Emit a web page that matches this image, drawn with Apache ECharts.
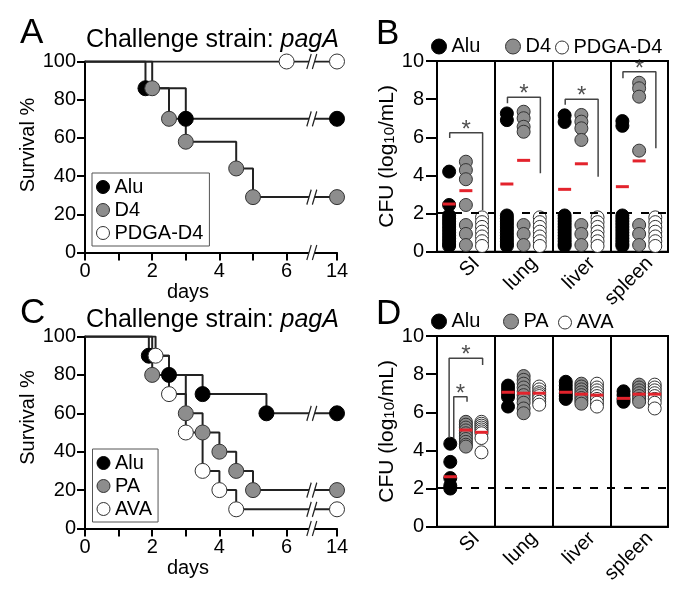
<!DOCTYPE html>
<html>
<head>
<meta charset="utf-8">
<script src="https://cdn.jsdelivr.net/npm/echarts@6/dist/echarts.min.js"></script>
<style>
html, body { margin: 0; padding: 0; background: #fff; }
#main { width: 688px; height: 594px; }
</style>
</head>
<body>
<div id="main"></div>
<script>
// survival, panel A (days; the 14 d point sits after the axis break)
var aAluDays = [0, 1.8, 3, 14];
var aAluSurv = [100, 86, 70, 70];
var aD4Days = [0, 2, 2.5, 3, 4.5, 5, 14];
var aD4Surv = [100, 86, 70, 58, 44, 29, 29];
var aPdgaDays = [0, 6, 14];
var aPdgaSurv = [100, 100, 100];

// survival, panel C
var cAluDays = [0, 1.9, 2.5, 3.5, 5.4, 14];
var cAluSurv = [100, 90, 80, 70, 60, 60];
var cPaDays = [0, 2, 3, 3.5, 4, 4.5, 5, 14];
var cPaSurv = [100, 80, 60, 50, 40, 30, 20, 20];
var cAvaDays = [0, 2.1, 2.5, 3, 3.5, 4, 4.5, 14];
var cAvaSurv = [100, 90, 70, 50, 30, 20, 10, 10];

var dayTicks = [0, 1, 2, 3, 4, 5, 6, 14];
var dayLabels = [0, 2, 4, 6, 14];

// CFU (log10/mL), one list per organ
var organs = ['SI', 'lung', 'liver', 'spleen'];
var lod = 2.05;

var bAlu = [
    [4.2, 2.45, 1.9, 1.75, 1.6, 1.45, 1.3, 1.15, 1.0, 0.85, 0.7, 0.55, 0.4, 0.3],
    [7.25, 6.9, 1.9, 1.75, 1.6, 1.45, 1.3, 1.15, 1.0, 0.85, 0.7, 0.55, 0.4, 0.3],
    [7.15, 6.8, 1.9, 1.75, 1.6, 1.45, 1.3, 1.15, 1.0, 0.85, 0.7, 0.55, 0.4, 0.3],
    [6.85, 6.6, 1.9, 1.75, 1.6, 1.45, 1.3, 1.15, 1.0, 0.85, 0.7, 0.55, 0.4, 0.3]
];
var bD4 = [
    [4.72, 4.28, 3.8, 2.45, 1.4, 0.93, 0.35],
    [7.34, 7.0, 6.55, 6.29, 1.4, 0.93, 0.35],
    [7.17, 6.82, 6.47, 5.86, 1.4, 0.93, 0.35],
    [8.86, 8.57, 8.13, 5.3, 1.4, 0.93, 0.35]
];
var bPdga = [
    [1.8, 1.55, 1.3, 1.05, 0.8, 0.55, 0.3],
    [1.8, 1.55, 1.3, 1.05, 0.8, 0.55, 0.3],
    [1.8, 1.55, 1.3, 1.05, 0.8, 0.55, 0.3],
    [1.8, 1.55, 1.3, 1.05, 0.8, 0.55, 0.3]
];
var bAluMean = [2.5, 3.55, 3.27, 3.41];
var bD4Mean = [3.2, 4.79, 4.61, 4.76];
// significance brackets Alu vs PDGA-D4
var bBracketTop = [6.24, 8.1, 7.99, 9.44];
var bBracketLeftEnd = [5.96, 7.78, 7.7, 9.09];
var bBracketRightEnd = [2.19, 4.11, 3.93, 5.42];

var dAlu = [
    [4.35, 3.4, 2.55, 2.15, 2.0],
    [7.4, 7.2, 7.0, 6.8, 6.3],
    [7.6, 7.4, 7.2, 7.0, 6.85, 6.7],
    [7.1, 6.9, 6.7, 6.55]
];
var dPa = [
    [5.5, 5.35, 5.2, 5.05, 4.9, 4.75, 4.6, 4.45, 4.3, 4.2],
    [7.9, 7.7, 7.5, 7.3, 7.1, 6.9, 6.7, 6.5, 6.2, 5.95],
    [7.5, 7.35, 7.2, 7.05, 6.9, 6.75, 6.6, 6.45],
    [7.45, 7.3, 7.15, 7.0, 6.85, 6.7, 6.55]
];
var dAva = [
    [5.5, 5.4, 5.3, 5.2, 5.1, 5.0, 4.9, 4.65, 3.9],
    [7.35, 7.2, 7.05, 6.95, 6.85, 6.7, 6.55, 6.4],
    [7.5, 7.3, 7.15, 7.0, 6.85, 6.7, 6.5, 6.3],
    [7.45, 7.3, 7.15, 7.0, 6.85, 6.7, 6.5, 6.2]
];
var dAluMean = [2.62, 7.05, 7.05, 6.73];
var dPaMean = [5.07, 7.0, 6.95, 6.95];
var dAvaMean = [4.95, 7.0, 6.9, 6.95];
// SI brackets: Alu vs AVA (outer), Alu vs PA (inner)
var dBracketTop = [8.83, 6.82];
var dBracketLeftEnd = [4.65, 4.65];
var dBracketRightEnd = [8.48, 6.55];

var FONT = '"Liberation Sans", Arial, Helvetica, sans-serif';
var BREAK_AT = 6.75;
function dayPos(d) { return d > 7 ? 7.5 : d; }

var black = { color: '#000', borderColor: '#000', borderWidth: 1, opacity: 1 };
var grey = { color: '#8d8d8d', borderColor: '#333', borderWidth: 1, opacity: 1 };
var white = { color: '#fff', borderColor: '#333', borderWidth: 1, opacity: 1 };

function kmSeries(name, days, surv, st, xi, yi) {
    return {
        name: name, type: 'line', step: 'end', xAxisIndex: xi, yAxisIndex: yi,
        data: days.map(function (d, i) {
            return { value: [dayPos(d), surv[i]], symbol: i === 0 ? 'none' : 'circle' };
        }),
        symbol: 'circle', symbolSize: 15, itemStyle: st,
        lineStyle: { color: '#222', width: 2 }, z: 3
    };
}

function breakSeries(xi, yi, ys) {
    var pts = ys.map(function (y) { return [BREAK_AT, y]; });
    return [{
        type: 'scatter', xAxisIndex: xi, yAxisIndex: yi, data: pts, z: 6, silent: true,
        symbol: 'path://M4,0 L9,0 L5,12 L0,12 Z', symbolSize: [10, 15], clip: false,
        itemStyle: { color: '#fff', borderWidth: 0, opacity: 1 }
    }, {
        type: 'scatter', xAxisIndex: xi, yAxisIndex: yi, data: pts, z: 7, silent: true,
        symbol: 'path://M0,12 L4,0 M5,12 L9,0', symbolSize: [10, 15], clip: false,
        itemStyle: { color: 'rgba(0,0,0,0)', borderColor: '#222', borderWidth: 1.5, opacity: 1 }
    }];
}

function dots(name, vals, off, st, xi, yi) {
    var out = [];
    vals.forEach(function (list, i) {
        list.forEach(function (v) { out.push([i + off, v]); });
    });
    return { name: name, type: 'scatter', xAxisIndex: xi, yAxisIndex: yi, data: out,
        symbol: 'circle', symbolSize: 13, itemStyle: st, z: 3 };
}

function means(vals, off, xi, yi) {
    return { type: 'scatter', xAxisIndex: xi, yAxisIndex: yi, silent: true, z: 5,
        data: vals.map(function (v, i) { return [i + off, v]; }),
        symbol: 'rect', symbolSize: [13, 3], itemStyle: { color: '#e3232c', opacity: 1 } };
}

function bracket(x0, x1, leftEnd, top, rightEnd, xi, yi) {
    return [{
        type: 'line', xAxisIndex: xi, yAxisIndex: yi, silent: true, z: 4,
        data: [[x0, leftEnd], [x0, top], [x1, top], [x1, rightEnd]],
        symbol: 'none', lineStyle: { color: '#444', width: 1.5 }
    }, {
        type: 'scatter', xAxisIndex: xi, yAxisIndex: yi, silent: true, z: 4,
        data: [[(x0 + x1) / 2, top]], symbolSize: 1, itemStyle: { color: 'rgba(0,0,0,0)' },
        label: { show: true, formatter: '*', position: 'top', distance: 0, offset: [0, 10],
            fontSize: 24, fontFamily: FONT, color: '#222' }
    }];
}

function survX(grid) {
    return {
        type: 'value', gridIndex: grid, min: 0, max: 7.5,
        axisLine: { onZero: false, lineStyle: { color: '#000', width: 2 } },
        axisTick: { customValues: dayTicks.map(dayPos), length: 8, lineStyle: { color: '#000', width: 2 } },
        axisLabel: { customValues: dayLabels.map(dayPos), margin: 9, fontSize: 20, fontFamily: FONT, color: '#000',
            formatter: function (v) { return v > 7 ? '14' : String(v); } },
        splitLine: { show: false },
        name: 'days', nameLocation: 'middle', nameGap: 26,
        nameTextStyle: { fontSize: 20, fontFamily: FONT, color: '#000', padding: [0, 46, 0, 0] }
    };
}
function survY(grid, shift) {
    return {
        type: 'value', gridIndex: grid, min: 0, max: 100, interval: 20,
        axisLine: { show: true, onZero: false, lineStyle: { color: '#000', width: 2 } },
        axisTick: { show: true, length: 8, lineStyle: { color: '#000', width: 2 } },
        axisLabel: { margin: 9, fontSize: 20, fontFamily: FONT, color: '#000' },
        splitLine: { show: false },
        name: 'Survival %', nameLocation: 'middle', nameGap: 35,
        nameTextStyle: { fontSize: 20, fontFamily: FONT, color: '#000', padding: [0, 0, 0, shift] }
    };
}
function cfuCat(grid) {
    return {
        type: 'category', gridIndex: grid, data: organs, boundaryGap: true,
        axisLine: { onZero: false, lineStyle: { color: '#000', width: 2 } },
        axisTick: { show: false },
        axisLabel: { interval: 0, rotate: 45, margin: -2, verticalAlign: 'top', lineHeight: 30,
            fontSize: 20, fontFamily: FONT, color: '#000' },
        splitLine: { show: true, interval: 0, lineStyle: { color: '#000', width: 2 } }
    };
}
function cfuVal(grid) {
    return { type: 'value', gridIndex: grid, min: -0.5, max: 3.5, show: false,
        axisLine: { onZero: false } };
}
function cfuY(grid) {
    return {
        type: 'value', gridIndex: grid, min: 0, max: 10, interval: 2,
        axisLine: { show: true, onZero: false, lineStyle: { color: '#000', width: 2 } },
        axisTick: { show: true, length: 11, lineStyle: { color: '#000', width: 2 } },
        axisLabel: { margin: 13, fontSize: 20, fontFamily: FONT, color: '#000' },
        splitLine: { show: false },
        name: 'CFU (log{sub|10}/mL)', nameLocation: 'middle', nameGap: 20,
        nameTextStyle: { fontSize: 21, fontFamily: FONT, color: '#000',
            rich: { sub: { fontSize: 15, fontFamily: FONT, color: '#000', lineHeight: 15,
                padding: [28, 0, 0, 0], verticalAlign: 'bottom' } } }
    };
}

function legendItem(name, st) {
    return { name: name, itemStyle: st };
}
function oneLegend(name, st, left, top, size) {
    return { data: [legendItem(name, st)], left: left, top: top, padding: 0,
        icon: 'circle', itemWidth: size, itemHeight: size, selectedMode: false,
        textStyle: { fontSize: 20, fontFamily: FONT, color: '#000' } };
}
function boxLegend(names, sts, left, top) {
    return { data: names.map(function (n, i) { return legendItem(n, sts[i]); }),
        orient: 'vertical', left: left, top: top, padding: [4, 6, 3, 4], itemGap: 3,
        icon: 'circle', itemWidth: 13, itemHeight: 13, selectedMode: false,
        borderColor: '#555', borderWidth: 1,
        textStyle: { fontSize: 20, fontFamily: FONT, color: '#000' } };
}

var lodLine = { silent: true, symbol: ['none', 'none'], label: { show: false },
    lineStyle: { type: [8, 9], color: '#000', width: 2 }, data: [{ yAxis: lod }] };

var series = [];
// A
series.push(kmSeries('PDGA-D4', aPdgaDays, aPdgaSurv, white, 0, 0));
series.push(kmSeries('Alu', aAluDays, aAluSurv, black, 0, 0));
series.push(kmSeries('D4', aD4Days, aD4Surv, grey, 0, 0));
series = series.concat(breakSeries(0, 0, [aPdgaSurv[aPdgaSurv.length - 1], aAluSurv[aAluSurv.length - 1], aD4Surv[aD4Surv.length - 1], 0]));
// C
series.push(kmSeries('Alu', cAluDays, cAluSurv, black, 3, 2));
series.push(kmSeries('PA', cPaDays, cPaSurv, grey, 3, 2));
series.push(kmSeries('AVA', cAvaDays, cAvaSurv, white, 3, 2));
series = series.concat(breakSeries(3, 2, [cAluSurv[cAluSurv.length - 1], cPaSurv[cPaSurv.length - 1], cAvaSurv[cAvaSurv.length - 1], 0]));
// B
var bDots = dots('Alu', bAlu, -0.29, black, 2, 1);
bDots.markLine = lodLine;
series.push(bDots);
series.push(dots('D4', bD4, 0, grey, 2, 1));
series.push(dots('PDGA-D4', bPdga, 0.28, white, 2, 1));
series.push(means(bAluMean, -0.29, 2, 1));
series.push(means(bD4Mean, 0, 2, 1));
organs.forEach(function (o, i) {
    series = series.concat(bracket(i - 0.28, i + 0.29, bBracketLeftEnd[i], bBracketTop[i], bBracketRightEnd[i], 2, 1));
});
// D
var dDots = dots('Alu', dAlu, -0.27, black, 5, 3);
dDots.markLine = lodLine;
series.push(dDots);
series.push(dots('PA', dPa, 0, grey, 5, 3));
series.push(dots('AVA', dAva, 0.27, white, 5, 3));
series.push(means(dAluMean, -0.27, 5, 3));
series.push(means(dPaMean, 0, 5, 3));
series.push(means(dAvaMean, 0.27, 5, 3));
series = series.concat(bracket(-0.29, 0.29, dBracketLeftEnd[0], dBracketTop[0], dBracketRightEnd[0], 5, 3));
series = series.concat(bracket(-0.21, 0.02, dBracketLeftEnd[1], dBracketTop[1], dBracketRightEnd[1], 5, 3));

var chart = echarts.init(document.getElementById('main'), null, { renderer: 'canvas' });
var option = {
    animation: false,
    backgroundColor: '#fff',
    grid: [
        { left: 85, top: 61.5, width: 252, height: 191, containLabel: false, outerBoundsMode: 'none' },
        { left: 437, top: 61, width: 231, height: 190.7, containLabel: false, outerBoundsMode: 'none',
          show: true, borderColor: '#000', borderWidth: 2 },
        { left: 85, top: 336.5, width: 252, height: 192, containLabel: false, outerBoundsMode: 'none' },
        { left: 437, top: 336, width: 231, height: 190.7, containLabel: false, outerBoundsMode: 'none',
          show: true, borderColor: '#000', borderWidth: 2 }
    ],
    xAxis: [survX(0), cfuCat(1), cfuVal(1), survX(2), cfuCat(3), cfuVal(3)],
    yAxis: [survY(0, 24), cfuY(1), survY(2, 30), cfuY(3)],
    legend: [
        boxLegend(['Alu', 'D4', 'PDGA-D4'], [black, grey, white], 92, 173),
        boxLegend(['Alu', 'PA', 'AVA'], [black, grey, white], 92.5, 449),
        oneLegend('Alu', black, 431, 36.5, 15),
        oneLegend('D4', grey, 505, 36.5, 15),
        oneLegend('PDGA-D4', white, 555, 37.5, 13),
        oneLegend('Alu', black, 431, 311.5, 15),
        oneLegend('PA', grey, 503, 311.5, 15),
        oneLegend('AVA', white, 558, 312.5, 13)
    ],
    graphic: [
        { type: 'text', x: 20, y: 33, style: { text: 'A', fontSize: 35, fontFamily: FONT, fill: '#000', verticalAlign: 'middle' } },
        { type: 'text', x: 376, y: 34, style: { text: 'B', fontSize: 35, fontFamily: FONT, fill: '#000', verticalAlign: 'middle' } },
        { type: 'text', x: 20, y: 313, style: { text: 'C', fontSize: 35, fontFamily: FONT, fill: '#000', verticalAlign: 'middle' } },
        { type: 'text', x: 376, y: 314, style: { text: 'D', fontSize: 35, fontFamily: FONT, fill: '#000', verticalAlign: 'middle' } },
        { type: 'text', x: 86, y: 40, style: { text: 'Challenge strain: {i|pagA}', fontSize: 25, fontFamily: FONT, fill: '#000',
            verticalAlign: 'middle', rich: { i: { fontSize: 25, fontFamily: FONT, fontStyle: 'italic', fill: '#000' } } } },
        { type: 'text', x: 86, y: 320, style: { text: 'Challenge strain: {i|pagA}', fontSize: 25, fontFamily: FONT, fill: '#000',
            verticalAlign: 'middle', rich: { i: { fontSize: 25, fontFamily: FONT, fontStyle: 'italic', fill: '#000' } } } }
    ],
    series: series
};
chart.setOption(option);
</script>
</body>
</html>
